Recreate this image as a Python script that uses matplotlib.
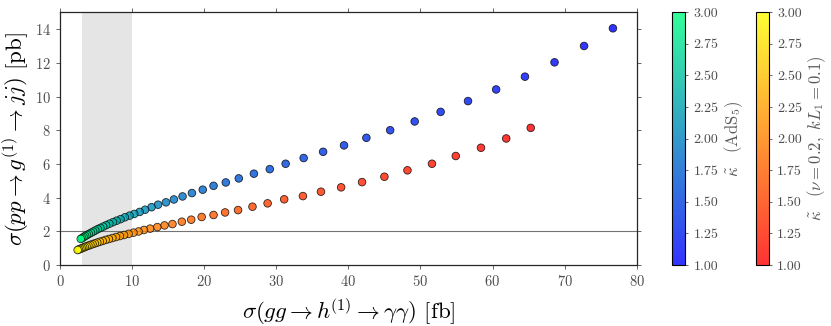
import numpy as np
import matplotlib
matplotlib.use("Agg")
import matplotlib.pyplot as plt

plt.rcParams['font.family'] = 'serif'
plt.rcParams['font.serif'] = ['cmr10']
plt.rcParams['mathtext.fontset'] = 'cm'
plt.rcParams['axes.formatter.use_mathtext'] = True

# kappa-tilde parameter (colour) for each point, same grid for both series
kappa = [1.000, 1.043, 1.085, 1.128, 1.170, 1.213, 1.255, 1.298, 1.340, 1.383,
         1.426, 1.468, 1.511, 1.553, 1.596, 1.638, 1.681, 1.723, 1.766, 1.809,
         1.851, 1.894, 1.936, 1.979, 2.021, 2.064, 2.106, 2.149, 2.191, 2.234,
         2.277, 2.319, 2.362, 2.404, 2.447, 2.489, 2.532, 2.574, 2.617, 2.660,
         2.702, 2.745, 2.787, 2.830, 2.872, 2.915, 2.957, 3.000]

# AdS5 series
ads_x = [76.7, 72.7, 68.6, 64.5, 60.5, 56.6, 52.8, 49.2, 45.8, 42.5,
         39.4, 36.5, 33.8, 31.3, 29.1, 26.9, 24.8, 23.0, 21.3, 19.8,
         18.3, 17.0, 15.8, 14.7, 13.6, 12.7, 11.8, 11.05, 10.3, 9.65,
         9.0, 8.4, 7.85, 7.35, 6.85, 6.4, 6.0, 5.6, 5.25, 4.9,
         4.6, 4.3, 4.0, 3.75, 3.5, 3.28, 3.07, 2.88]
ads_y = [14.05, 13.0, 12.03, 11.18, 10.42, 9.73, 9.09, 8.52, 8.0, 7.55,
         7.1, 6.72, 6.35, 6.01, 5.69, 5.42, 5.14, 4.90, 4.70, 4.47,
         4.27, 4.07, 3.89, 3.72, 3.58, 3.43, 3.28, 3.15, 3.03, 2.93,
         2.83, 2.72, 2.63, 2.54, 2.45, 2.36, 2.28, 2.20, 2.13, 2.05,
         1.98, 1.91, 1.84, 1.78, 1.72, 1.66, 1.60, 1.55]

# (nu=0.2, kL1=0.1) series
mod_x = [65.3, 61.9, 58.4, 54.9, 51.6, 48.2, 45.0, 41.9, 39.0, 36.2,
         33.7, 31.1, 28.8, 26.7, 24.7, 22.9, 21.3, 19.65, 18.2, 16.9,
         15.6, 14.5, 13.5, 12.5, 11.65, 10.9, 10.19, 9.52, 8.89, 8.31,
         7.77, 7.26, 6.78, 6.34, 5.92, 5.53, 5.17, 4.83, 4.51, 4.22,
         3.94, 3.68, 3.44, 3.22, 3.01, 2.81, 2.62, 2.45]
mod_y = [8.14, 7.51, 6.96, 6.47, 6.01, 5.62, 5.24, 4.92, 4.61, 4.35,
         4.09, 3.90, 3.66, 3.46, 3.26, 3.12, 2.97, 2.85, 2.69, 2.57,
         2.43, 2.35, 2.25, 2.16, 2.08, 1.99, 1.92, 1.85, 1.78, 1.72,
         1.66, 1.60, 1.54, 1.49, 1.43, 1.38, 1.33, 1.28, 1.24, 1.19,
         1.15, 1.11, 1.07, 1.03, 0.99, 0.96, 0.92, 0.89]

shade_range = (3, 10)
hline_y = 2
cbar_ticks = [1.00, 1.25, 1.50, 1.75, 2.00, 2.25, 2.50, 2.75, 3.00]

W, H = 831, 326
fig = plt.figure(figsize=(W / 100, H / 100), dpi=100)
ax = fig.add_axes([60 / W, 1 - 265 / H, (636.7 - 60) / W, (265 - 12.3) / H])
cax1 = fig.add_axes([672.3 / W, 1 - 265 / H, 12.7 / W, (265 - 12.3) / H])
cax2 = fig.add_axes([756 / W, 1 - 265 / H, 12.7 / W, (265 - 12.3) / H])

ax.axvspan(*shade_range, color='0.5', alpha=0.2, lw=0, zorder=0)
ax.axhline(hline_y, color='0.45', lw=0.8, zorder=1)

sc1 = ax.scatter(ads_x, ads_y, c=kappa, cmap='winter', vmin=1, vmax=3,
                 s=30, edgecolors='k', linewidths=0.6, alpha=0.8, zorder=3)
sc2 = ax.scatter(mod_x, mod_y, c=kappa, cmap='autumn', vmin=1, vmax=3,
                 s=30, edgecolors='k', linewidths=0.6, alpha=0.8, zorder=3)

ax.set_xlim(0, 80)
ax.set_ylim(0, 15)
ax.set_xticks(np.arange(0, 81, 10))
ax.set_yticks(np.arange(0, 15, 2))
ax.tick_params(direction='out', length=3, width=0.6, labelsize=10.5,
               top=True, right=True, colors='0.3', labelcolor='0.3')
for sp in ax.spines.values():
    sp.set_linewidth(0.9)
    sp.set_color('0.15')

ax.set_xlabel(r'$\sigma(gg\to h^{\!(1)}\to\gamma\gamma)$ [fb]', fontsize=16.5, labelpad=5)
ax.set_ylabel(r'$\sigma(pp\to g^{(1)}\to jj)$ [pb]', fontsize=16.5, labelpad=3)
ax.yaxis.set_label_coords(-0.05, 0.5)

cb1 = fig.colorbar(sc1, cax=cax1, ticks=cbar_ticks, format='%.2f')
cb2 = fig.colorbar(sc2, cax=cax2, ticks=cbar_ticks, format='%.2f')
for cb, lab, pad in ((cb1, r'$\tilde{\kappa}\ \ \ $(AdS$_5$)', 3),
                     (cb2, r'$\tilde{\kappa}\ \ \ (\nu=0.2,\ kL_1=0.1)$', 2)):
    cb.ax.tick_params(labelsize=10, length=2.5, width=0.6, colors='0.3', labelcolor='0.3')
    cb.outline.set_linewidth(0.8)
    cb.set_label(lab, fontsize=12, color='0.35', labelpad=pad)

fig.savefig('out.png', dpi=100)
